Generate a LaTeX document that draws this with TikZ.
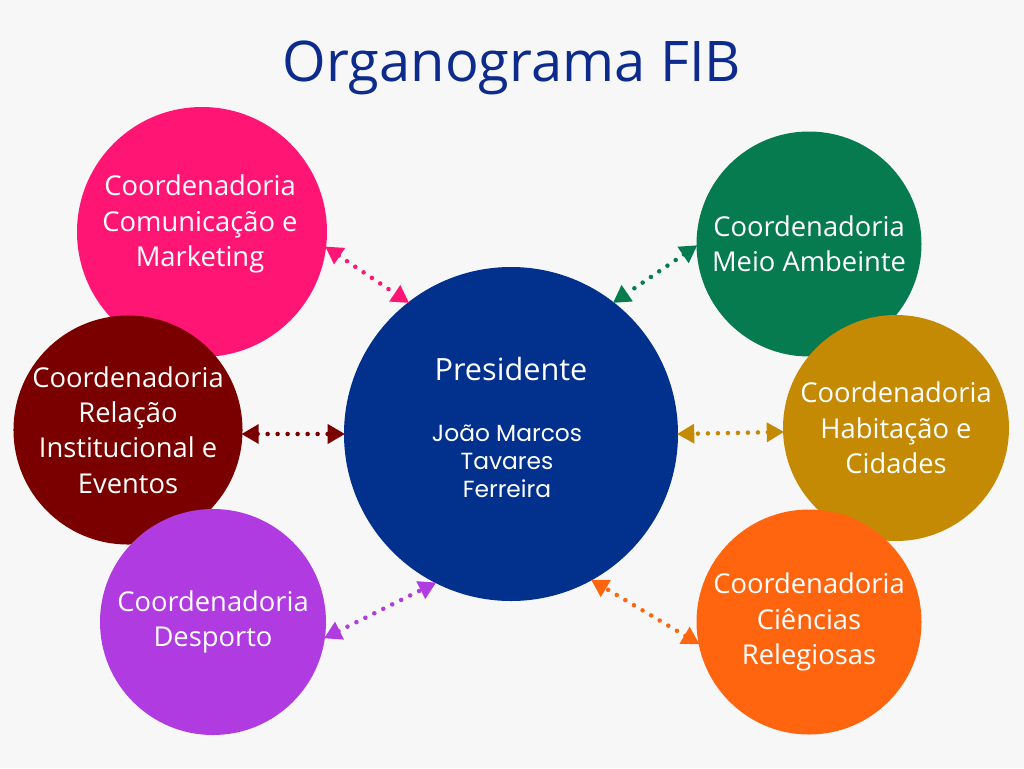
\documentclass[tikz,border=0pt]{standalone}
\usepackage{fontspec}
\setmainfont{Open Sans}
\newfontfamily\namefont{Poppins}
\usetikzlibrary{arrows.meta}
\definecolor{bg}{HTML}{F7F7F7}
\definecolor{titleblue}{HTML}{0D2B8C}
\definecolor{cpink}{HTML}{FF1675}
\definecolor{cdred}{HTML}{7A0000}
\definecolor{cpurple}{HTML}{B03BE0}
\definecolor{cblue}{HTML}{01308D}
\definecolor{cgreen}{HTML}{067B4F}
\definecolor{cgold}{HTML}{C48A04}
\definecolor{corange}{HTML}{FF640F}
\tikzset{
  coord/.style={circle, fill=#1, draw=none, inner sep=0pt, text=white, align=center,
    font=\fontsize{20.5}{26.5}\selectfont},
  link/.style={draw=#1, line width=3.4pt, line cap=round, dash pattern=on 0pt off 7.5pt,
    {Triangle[length=13pt,width=14pt,fill=#1,line cap=butt]}-{Triangle[length=13pt,width=14pt,fill=#1]},
    shorten <=-1pt, shorten >=-1pt}
}
\begin{document}
\begin{tikzpicture}[x=0.75pt,y=-0.75pt]
\fill[bg] (0,0) rectangle (1024,768);
\useasboundingbox (0,0) rectangle (1024,768);
\node[text=titleblue, font=\fontsize{42}{48}\selectfont] (title) at (512,68) {Organograma FIB};

\node[coord=cblue, minimum size=334*0.75pt] (pres) at (511,434) {};
\node[text=white, font=\fontsize{23}{28}\selectfont] (prestit) at (511,369) {Presidente};
\node[text=white, align=center, font=\namefont\fontsize{17.5}{21}\selectfont] (presname) at (507,461) {João Marcos\\Tavares\\Ferreira};

\node[coord=cpink, minimum size=250*0.75pt] (pink) at (202,232) {};
\node[text=white, align=center, font=\fontsize{20.5}{26.5}\selectfont] (pinktxt) at (200,224) {Coordenadoria\\Comunicação e\\Marketing};
\node[coord=cdred, minimum size=226*0.75pt] (dred) at (128,430) {Coordenadoria\\Relação\\Institucional e\\Eventos};
\node[coord=cpurple, minimum size=226*0.75pt] (purple) at (213,622) {Coordenadoria\\Desporto};
\node[coord=cgreen, minimum size=225*0.75pt] (green) at (809,244) {Coordenadoria\\Meio Ambeinte};
\node[coord=cgold, minimum size=226*0.75pt] (gold) at (896,428) {Coordenadoria\\Habitação e\\Cidades};
\node[coord=corange, minimum size=225*0.75pt] (orange) at (809,622) {Coordenadoria\\Ciências\\Relegiosas};

\draw[link=cpink] (pink.-7) -- (pres.128.6);
\draw[link=cdred] (dred.-2) -- (pres.180);
\draw[link=cpurple] (purple.-8) -- (pres.243.4);
\draw[link=cgreen] (green.181) -- (pres.52.2);
\draw[link=cgold] (gold.182) -- (pres.0.7);
\draw[link=corange] (orange.191.6) -- (pres.-61.6);
\end{tikzpicture}
\end{document}
